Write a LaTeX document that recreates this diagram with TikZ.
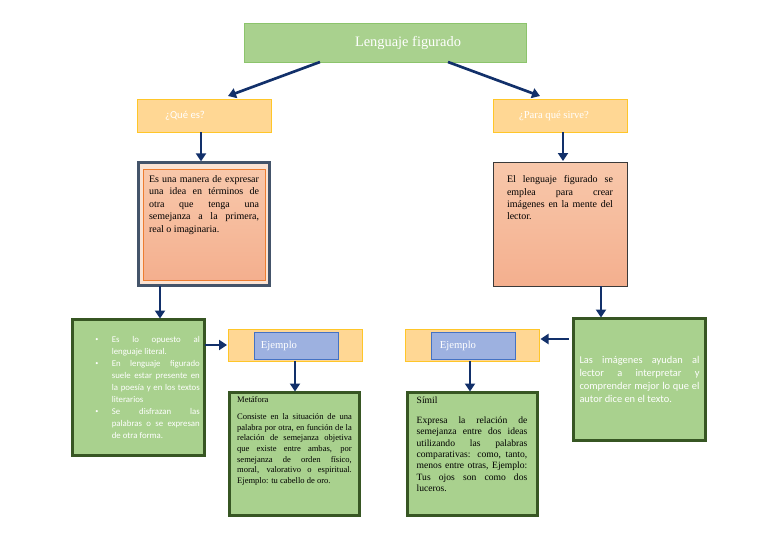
\documentclass[tikz,border=0pt]{standalone}
\usepackage{fontspec}
\setmainfont{Liberation Serif}
\newfontfamily\calibfont{Carlito}
\usetikzlibrary{arrows.meta,calc,positioning}
\definecolor{navy}{HTML}{12306A}
\definecolor{titlefill}{HTML}{A9D18E}
\definecolor{titleline}{HTML}{8CC46C}
\definecolor{goldfill}{HTML}{FFD794}
\definecolor{goldline}{HTML}{FFC629}
\definecolor{peachfill}{HTML}{FBE3D3}
\definecolor{slateline}{HTML}{44546A}
\definecolor{salmontop}{HTML}{F8C8AB}
\definecolor{salmonbot}{HTML}{F4AF8E}
\definecolor{orangeline}{HTML}{ED7D31}
\definecolor{darkline}{HTML}{3A3A3A}
\definecolor{greenfill}{HTML}{A9D18E}
\definecolor{greenline}{HTML}{375623}
\definecolor{bluefill}{HTML}{9DB1E0}
\definecolor{blueline}{HTML}{4472C4}
\newcommand{\topbox}[4]{\parbox[c][#1][t]{#2}{\vspace*{#3}#4}}
\begin{document}
\begin{tikzpicture}[x=0.75pt,y=-0.75pt,
  every node/.style = {shape=rectangle, inner sep=0pt, outer sep=0pt},
  titlebox/.style = {draw=titleline, fill=titlefill, text=white,
    minimum width=211.5pt, minimum height=29.25pt,
    font=\fontsize{10.8}{13}\selectfont},
  headbox/.style = {draw=goldline, fill=goldfill, text=white,
    minimum width=100.5pt, minimum height=24.75pt,
    font=\fontsize{8}{10}\selectfont},
  defouter/.style = {draw=slateline, line width=2.25pt, fill=peachfill,
    minimum width=98.5pt, minimum height=92.5pt},
  salmonbox/.style = {top color=salmontop, bottom color=salmonbot,
    font=\fontsize{7.5}{9.3}\selectfont},
  greenbox/.style = {draw=greenline, line width=2.25pt, fill=greenfill,
    minimum width=99pt},
  bluebox/.style = {draw=blueline, fill=bluefill, text=white,
    minimum width=63pt, minimum height=20.25pt,
    font=\fontsize{8}{10}\selectfont},
  arr/.style = {draw=navy, line width=2pt, -{Triangle[length=6pt,width=7.5pt]}}]
  \useasboundingbox (0,0) rectangle (768,543);
  \node[titlebox] (title) at (385,42.5) {\hspace*{34.5pt}Lenguaje figurado};
  \node[headbox] (quees) at (204,115.5) {\calibfont ¿Qué es?\hspace*{28.5pt}};
  \node[headbox] (para) at (560,115.5) {¿Para qué sirve?\hspace*{9pt}};
  \node[defouter] (def1) at (204,224) {};
  \node[salmonbox, draw=orangeline, inner xsep=4.5pt] (def1txt) at (204,224.5)
    {\topbox{83.25pt}{82.5pt}{4.9pt}{Es una manera de expresar\linebreak
      una idea en términos de\linebreak otra que tenga una\linebreak
      semejanza a la primera,\linebreak real o imaginaria.}};
  \node[salmonbox, draw=darkline, inner xsep=10.5pt] (use1) at (560,224)
    {\topbox{93pt}{79.5pt}{10.2pt}{El lenguaje figurado se\linebreak
      emplea para crear\linebreak imágenes en la mente del\linebreak lector.}};
  \node[greenbox, minimum height=102pt, text=white] (bullets) at (138.5,387.5)
    {\hspace*{11pt}\begin{minipage}{81pt}
      \calibfont\fontsize{6.6}{9}\selectfont
      \setlength{\leftmargini}{15pt}\setlength{\labelsep}{10pt}
      \begin{itemize}
        \setlength{\itemsep}{0pt}\setlength{\parsep}{0pt}\setlength{\parskip}{0pt}
        \item Es lo opuesto al\linebreak lenguaje literal.
        \item En lenguaje figurado\linebreak suele estar presente en\linebreak
          la poesía y en los textos\linebreak literarios
        \item Se disfrazan las\linebreak palabras o se expresan\linebreak
          de otra forma.
      \end{itemize}
    \end{minipage}};
  \node[greenbox, minimum height=91.5pt, text=white,
    font=\calibfont\fontsize{7.8}{9.8}\selectfont] (rgreen) at (639.5,379.5)
    {\parbox{90pt}{Las imágenes ayudan al\linebreak lector a interpretar y\linebreak
      comprender mejor lo que el\linebreak autor dice en el texto.}};
  \node[headbox, minimum height=24pt] (ej1) at (295,345) {};
  \node[bluebox] (ej1txt) at (296,345.5) {Ejemplo\hspace*{25.5pt}};
  \node[headbox, minimum height=24pt] (ej2) at (472.5,345) {};
  \node[bluebox] (ej2txt) at (473.5,345.5) {Ejemplo\hspace*{23.25pt}};
  \node[greenbox, minimum width=97.5pt, minimum height=92.25pt,
    font=\fontsize{6.4}{7.9}\selectfont] (metafora) at (294.5,454)
    {\topbox{88pt}{86pt}{0.5pt}{Metáfora\par\vspace{5.5pt}
      Consiste en la situación de una\linebreak palabra por otra, en función de la\linebreak
      relación de semejanza objetiva\linebreak que existe entre ambas, por\linebreak
      semejanza de orden físico,\linebreak moral, valorativo o espiritual.\linebreak
      Ejemplo: tu cabello de oro.}};
  \node[greenbox, minimum width=97.5pt, minimum height=92.25pt,
    font=\fontsize{7.2}{8.5}\selectfont] (simil) at (472,454)
    {\topbox{88pt}{83pt}{1pt}{Símil\par\vspace{6.5pt}
      Expresa la relación de\linebreak semejanza entre dos ideas\linebreak
      utilizando las palabras\linebreak comparativas: como, tanto,\linebreak
      menos entre otras, Ejemplo:\linebreak Tus ojos son como dos\linebreak luceros.}};
  \draw[arr] ($(title.south west)+(76,0)$) -- ($(quees.north)+(24,-3)$);
  \draw[arr] ($(title.south east)+(-78,0)$) -- ($(para.north)+(-20,-3)$);
  \draw[arr] ($(quees.south)+(-3,0)$) -- ($(def1.north)+(-3,-1)$);
  \draw[arr] ($(para.south)+(3,0)$) -- ($(use1.north)+(3,-1)$);
  \draw[arr] ($(def1.south)+(-44,0)$) -- ($(bullets.north)+(21.5,-1)$);
  \draw[arr] ($(use1.south)+(41,0)$) -- ($(rgreen.north)+(-38.5,-1)$);
  \draw[arr] (bullets.east |- ej1.west) -- ($(ej1.west)+(-1,0)$);
  \draw[arr] (ej1.south) -- ($(ej1.south |- metafora.north)+(0,-1)$);
  \draw[arr] ($(rgreen.west |- ej2.east)+(-5,-6)$) -- ($(ej2.east)+(1,-6)$);
  \draw[arr] ($(ej2.south)+(-2.5,0)$) -- ($(ej2.south |- simil.north)+(-2.5,-1)$);
\end{tikzpicture}
\end{document}
